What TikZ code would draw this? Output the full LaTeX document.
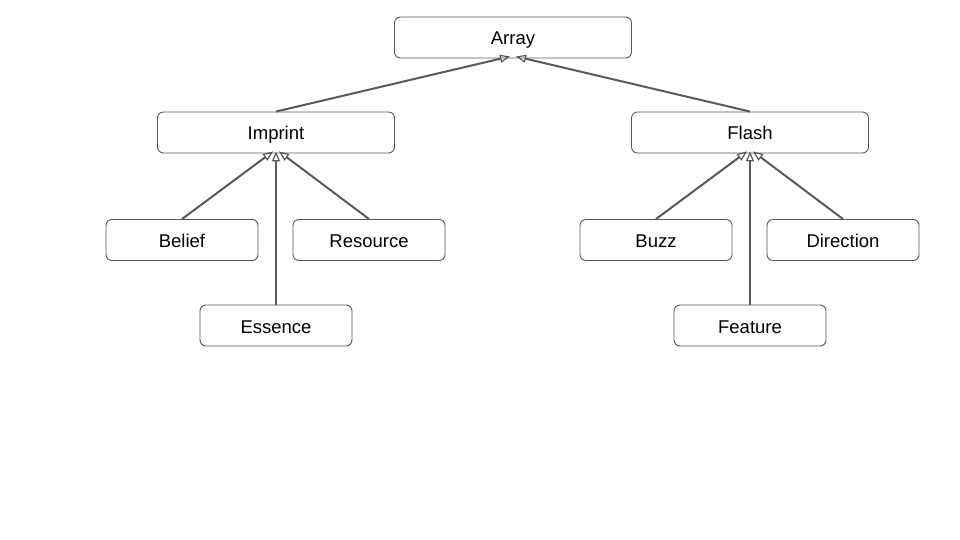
\documentclass[tikz,border=0pt]{standalone}
\usepackage{fontspec}
\setmainfont{Liberation Sans}
\usetikzlibrary{arrows.meta}
\definecolor{edge}{HTML}{595959}
\tikzset{
  box/.style={draw=edge, line width=0.9pt, rounded corners=6pt, fill=white,
    minimum height=41pt, inner sep=0pt, text height=17pt, text depth=2pt,
    font=\fontsize{18.5}{22}\selectfont},
  wide/.style={box, minimum width=237pt},
  narrow/.style={box, minimum width=152pt},
  inherit/.style={draw=edge, line width=2pt,
    -{Triangle[open, length=10pt, width=8pt, line width=1.2pt]}},
}
\begin{document}
\begin{tikzpicture}[x=1pt,y=-1pt]
\useasboundingbox (0,0) rectangle (960,540);
\node[wide] (array) at (513,37.5) {Array};
\node[wide] (imprint) at (276,132.5) {Imprint};
\node[wide] (flash) at (750,132.5) {Flash};
\node[narrow] (belief) at (182,240) {Belief};
\node[narrow] (resource) at (369,240) {Resource};
\node[narrow] (essence) at (276,325.5) {Essence};
\node[narrow] (buzz) at (656,240) {Buzz};
\node[narrow] (direction) at (843,240) {Direction};
\node[narrow] (feature) at (750,325.5) {Feature};
\coordinate (arrayL) at ([xshift=-3pt,yshift=2pt]array.south);
\coordinate (arrayR) at ([xshift=3pt,yshift=2pt]array.south);
\coordinate (impT) at ([yshift=2pt]imprint.south);
\coordinate (flaT) at ([yshift=2pt]flash.south);
\draw[inherit] (imprint.north) -- (arrayL);
\draw[inherit] (flash.north) -- (arrayR);
\draw[inherit] (belief.north) -- ([xshift=-3pt]impT);
\draw[inherit] (essence.north) -- (impT);
\draw[inherit] (resource.north) -- ([xshift=3pt]impT);
\draw[inherit] (buzz.north) -- ([xshift=-3pt]flaT);
\draw[inherit] (feature.north) -- (flaT);
\draw[inherit] (direction.north) -- ([xshift=3pt]flaT);
\end{tikzpicture}
\end{document}
